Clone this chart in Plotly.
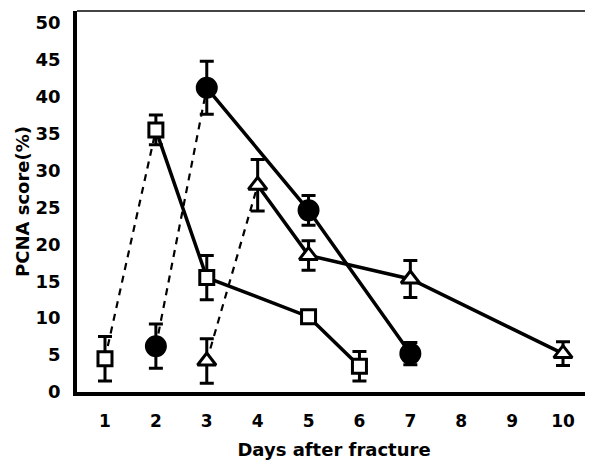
import plotly.graph_objects as go

# Data
sq_days = [1, 2, 3, 5, 6]
sq_vals = [4.5, 35.5, 15.5, 10.2, 3.5]
sq_err = [3.0, 2.0, 3.0, 0.8, 2.0]

ci_days = [2, 3, 5, 7]
ci_vals = [6.2, 41.2, 24.6, 5.2]
ci_err = [3.0, 3.6, 2.0, 1.5]

tr_days = [3, 4, 5, 7, 10]
tr_vals = [4.2, 28.0, 18.5, 15.3, 5.2]
tr_err = [3.0, 3.5, 2.0, 2.5, 1.6]

x_ticks = [1, 2, 3, 4, 5, 6, 7, 8, 9, 10]
y_ticks = [0, 5, 10, 15, 20, 25, 30, 35, 40, 45, 50]

fig = go.Figure()

series = [
    (sq_days, sq_vals, sq_err, "square", "white", 14),
    (ci_days, ci_vals, ci_err, "circle", "black", 19),
    (tr_days, tr_vals, tr_err, "triangle-up", "white", 16),
]

for days, vals, err, sym, fill, size in series:
    # dashed rise
    fig.add_trace(go.Scatter(x=days[:2], y=vals[:2], mode="lines",
                             line=dict(color="black", width=2.2, dash="7px,6px"),
                             showlegend=False, hoverinfo="skip"))
    # solid decline
    fig.add_trace(go.Scatter(x=days[1:], y=vals[1:], mode="lines",
                             line=dict(color="black", width=3.5),
                             showlegend=False, hoverinfo="skip"))
    # markers with error bars
    fig.add_trace(go.Scatter(x=days, y=vals, mode="markers",
                             marker=dict(symbol=sym, size=size, color=fill,
                                         line=dict(color="black", width=3)),
                             error_y=dict(type="data", array=err, visible=True,
                                          color="black", thickness=3, width=7),
                             showlegend=False))

# thin top and right frame lines
fig.add_shape(type="line", xref="paper", yref="paper", x0=0, x1=1, y0=1, y1=1,
              line=dict(color="#444", width=2))
fig.add_shape(type="line", xref="paper", yref="paper", x0=1, x1=1, y0=0, y1=1,
              line=dict(color="#888", width=1))

font_family = "DejaVu Sans, sans-serif"

fig.update_layout(
    width=585, height=458,
    margin=dict(l=69, r=2, t=3, b=74),
    paper_bgcolor="white", plot_bgcolor="white",
    font=dict(family=font_family, color="black"),
    xaxis=dict(range=[0.45, 10.55], tickvals=x_ticks,
               ticktext=[f"<b>{v}</b>" for v in x_ticks],
               tickfont=dict(size=17), showgrid=False, zeroline=False,
               showline=True, linecolor="black", linewidth=3.5, ticks="",
               automargin=False, ticklabelstandoff=11,
               title=dict(text="<b>Days after fracture</b>", font=dict(size=18), standoff=14)),
    yaxis=dict(range=[0, 51.6], tickvals=y_ticks,
               ticktext=[f"<b>{v}</b>" for v in y_ticks],
               tickfont=dict(size=18), showgrid=False, zeroline=False,
               showline=True, linecolor="black", linewidth=3.5, ticks="",
               automargin=False, ticklabelstandoff=9,
               title=dict(text="<b>PCNA score(%)</b>", font=dict(size=18), standoff=2)),
)

fig.write_html("out.html")
